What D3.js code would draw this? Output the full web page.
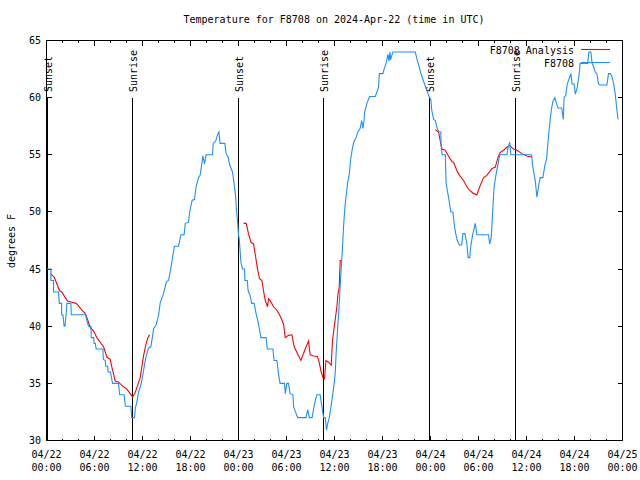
<!DOCTYPE html>
<html><head><meta charset="utf-8">
<script src="https://cdn.jsdelivr.net/npm/d3@7"></script>
<style>body{margin:0;background:#fff}svg{display:block}text{font-family:"DejaVu Sans Mono",monospace;font-size:10px;fill:#000}</style>
</head><body>
<script>
// ---- data (hours since 04/22 00:00 UTC, degrees F) ----
const titleText = "Temperature for F8708 on 2024-Apr-22 (time in UTC)";
const yLabelText = "degrees F";
const yTicks = [30, 35, 40, 45, 50, 55, 60, 65];
const xTickHours = [0, 6, 12, 18, 24, 30, 36, 42, 48, 54, 60, 66, 72];
const xTickDates = ["04/22","04/22","04/22","04/22","04/23","04/23","04/23","04/23","04/24","04/24","04/24","04/24","04/25"];
const xTickTimes = ["00:00","06:00","12:00","18:00","00:00","06:00","12:00","18:00","00:00","06:00","12:00","18:00","00:00"];
const sunEventHours = [0.08, 10.75, 24.0, 34.63, 47.88, 58.63];
const sunEventNames = ["Sunset","Sunrise","Sunset","Sunrise","Sunset","Sunrise"];
const seriesNames = ["F8708 Analysis", "F8708"];

const obsSeries = [
[0,45],[0.55,45],[0.55,44],[0.88,44],[0.88,43],[1.5,43],[1.6,42],[1.88,42],[1.9,41],[2.05,41],[2.2,40],[2.3,40],[2.45,41],[2.55,42],[3.05,42],[3.1,41],[4.9,41],[5.0,40.6],[5.25,40],[5.55,40],[5.6,39],[5.9,39],[5.95,38.5],[6.1,38.5],[6.2,38],[7.05,38],[7.1,37.1],[7.35,37],[7.4,36.5],[7.65,36.5],[7.7,36],[8.0,36],[8.25,35],[9.0,35],[9.15,34],[9.7,34],[9.85,33],[10.55,33],[10.65,32],[11.0,32],[11.1,32.8],[11.3,33.4],[11.5,34.2],[11.85,35],[12.1,36],[12.4,37.2],[12.75,38.1],[13.05,38.2],[13.4,39.8],[13.7,40.1],[14.0,40.9],[14.2,42],[14.6,42.8],[15.0,43.9],[15.25,44],[15.5,44.9],[15.75,46],[16.0,47],[16.5,47],[16.8,48],[17.2,48],[17.35,49],[17.75,49.1],[17.9,50],[18.2,51],[18.5,51.1],[18.7,52.2],[19.0,53],[19.2,53.2],[19.35,53.9],[19.55,54.9],[19.75,54.2],[19.95,55],[20.75,55],[20.85,56],[21.15,56.2],[21.4,56.8],[21.55,57],[21.7,56],[22.3,56],[22.45,55.1],[22.7,54.8],[22.9,54.1],[23.25,53.5],[23.45,52.5],[23.65,51.3],[23.75,50.1],[23.9,49],[24.0,48],[24.1,47.6],[24.2,46.6],[24.3,45.6],[24.5,45],[24.75,45],[24.8,44],[25.1,44],[25.2,43.1],[25.45,42.7],[25.65,42],[25.95,42],[26.2,41.1],[26.5,40.2],[26.8,39],[27.45,39],[27.6,38],[28.3,38],[28.45,37],[28.8,37],[29.0,35.8],[29.2,35],[29.75,35],[29.85,34.1],[30.05,35],[30.25,35],[30.45,34.1],[30.8,34],[30.9,32.9],[31.4,32],[32.45,32],[32.65,32.7],[32.85,32],[33.2,32],[33.5,33.2],[33.8,34],[34.2,34],[34.5,32.6],[34.65,32],[34.85,32],[35.0,30.9],[35.15,31.5],[35.35,32],[35.55,32.9],[35.8,34.1],[35.96,35],[36.1,36],[36.2,37.6],[36.4,39.9],[36.55,41.4],[36.7,43.4],[36.85,45.2],[37.0,46.9],[37.13,48.7],[37.3,50.4],[37.5,51.7],[37.65,52.6],[37.85,53.3],[38.0,54.5],[38.2,55.4],[38.4,56.1],[38.7,56.5],[38.9,57],[39.2,57.3],[39.4,58],[39.55,57.3],[39.7,58],[39.75,58.7],[40.05,59.5],[40.4,60.1],[41.1,60.1],[41.5,60.9],[41.6,62.1],[42.05,62.1],[42.2,62.5],[42.45,63],[42.7,63.8],[42.8,63.2],[42.95,64],[43.0,63.3],[43.3,64],[46.1,64],[46.3,63.4],[46.55,62.8],[46.8,62.1],[47.1,61.5],[47.5,60.7],[47.75,60.2],[48.05,59.8],[48.15,58.9],[48.4,58.1],[48.6,58],[48.85,57.3],[49.05,57],[49.3,57],[49.3,56],[49.45,55],[49.85,55],[49.95,52.5],[50.25,51.3],[50.55,50],[50.8,50],[50.95,49],[51.15,48.1],[51.35,47.5],[51.6,47.1],[51.9,47.1],[52.05,48.1],[52.3,48.1],[52.55,47.2],[52.7,46],[52.9,46],[53.05,47.1],[53.3,48.1],[53.6,49],[53.8,48],[55.25,48],[55.4,47.2],[55.6,47.8],[55.8,50.4],[55.95,52.2],[56.2,53.3],[56.45,54.2],[56.65,55],[57.55,55],[57.65,55.5],[57.9,56.1],[58.05,55],[60.65,55],[60.75,54.1],[61.1,52.7],[61.3,51.3],[61.5,52.2],[61.7,53],[62.05,53],[62.3,54.1],[62.5,54.6],[62.7,56.2],[62.9,57.7],[63.1,58.9],[63.3,59.7],[63.55,60],[63.75,59.5],[63.95,59.1],[64.4,59.1],[64.6,58.1],[64.7,60],[64.9,60.2],[65.1,61.2],[65.55,62.1],[65.7,61.2],[65.95,61.2],[66.1,60.3],[66.35,60.9],[66.55,61.9],[66.7,63],[67.65,63],[67.8,64],[68.05,64],[68.2,63],[68.4,62.7],[68.6,62.2],[68.8,62.1],[69.0,61.2],[69.25,61.1],[70.05,61.1],[70.25,62.1],[70.5,62.1],[70.7,61.8],[70.9,61.2],[71.1,60.3],[71.3,58.9],[71.45,58.1]
];

const analysisSeg1 = [
[0.5,44.6],[0.96,44.3],[1.3,43.7],[1.63,43.1],[1.93,43.0],[2.34,42.5],[2.63,42.2],[3.18,42.1],[3.71,42.0],[4.0,41.8],[4.43,41.4],[4.84,41.1],[5.13,40.6],[5.46,39.9],[5.88,39.6],[6.3,39.0],[6.71,38.6],[7.13,38.2],[7.55,37.3],[7.96,37.1],[8.18,36.4],[8.59,35.2],[9.0,35.1],[9.63,34.7],[10.05,34.5],[10.46,34.1],[10.75,33.8],[11.09,34.2],[11.38,34.8],[11.71,35.5],[12.13,37.4],[12.46,38.5],[12.68,39.0],[12.88,39.25]
];
const analysisSeg2 = [
[24.63,49],[24.96,49],[25.25,48.1],[25.55,47.35],[25.88,47.2],[26.09,46.3],[26.38,45.0],[26.63,44.15],[26.93,44.0],[27.13,43.1],[27.34,42.25],[27.63,41.7],[27.75,42.4],[27.96,42.25],[28.38,41.7],[28.8,41.4],[29.21,40.9],[29.63,40.2],[29.84,39.0],[30.25,39.2],[30.68,39.25],[30.96,38.2],[31.3,37.7],[31.8,37.0],[32.34,38.0],[32.75,38.7],[32.96,37.5],[33.38,37.4],[33.88,37.35],[34.13,36.7],[34.3,36.1],[34.55,35.5],[34.75,35.4],[34.93,37.0],[35.25,36.85],[35.59,36.6],[35.75,38.75],[35.96,39.9],[36.13,40.8],[36.3,41.7],[36.43,42.8],[36.59,43.4],[36.71,45.75],[36.84,45.75]
];
const analysisSeg3 = [
[48.59,57.2],[49.0,57.0],[49.21,56.25],[49.43,55.5],[49.84,55.4],[50.25,54.9],[50.68,54.4],[50.88,54.35],[51.3,53.6],[51.63,53.2],[52.13,52.75],[52.55,52.2],[52.88,51.9],[53.38,51.6],[53.8,51.5],[54.21,52.3],[54.63,53.0],[55.05,53.2],[55.68,53.8],[56.09,53.9],[56.5,54.9],[56.71,55.2],[57.13,55.4],[57.63,55.7],[57.88,55.8],[58.38,55.5],[58.8,55.4],[59.43,55.1],[60.05,54.9],[60.7,54.8]
];

// ---- drawing ----
const analysisColor = "#ff0000", obsColor = "#1e90ff";
const svg = d3.select("body").append("svg").attr("width", 640).attr("height", 480);
svg.append("rect").attr("width", 640).attr("height", 480).attr("fill", "#fff");

const x = d3.scaleLinear().domain([0, 72]).range([46.5, 622.5]);
const y = d3.scaleLinear().domain([30, 65]).range([440.5, 40.5]);
const px = v => Math.round(x(v) - 0.5) + 0.5;
const py = v => Math.round(y(v) - 0.5) + 0.5;

// title
svg.append("text").attr("x", 334).attr("y", 23).attr("text-anchor", "middle").text(titleText);
// y label
svg.append("text").attr("transform", "translate(15,241) rotate(-90)").attr("text-anchor", "middle").text(yLabelText);

// ticks
const g = svg.append("g").attr("stroke", "#000").attr("stroke-width", 1).attr("shape-rendering", "crispEdges");
d3.range(0, 73, 2).forEach(h => {
  const major = h % 6 === 0;
  const len = major ? 5 : 2;
  g.append("line").attr("x1", px(h)).attr("x2", px(h)).attr("y1", y.range()[0]).attr("y2", y.range()[0] - len);
  g.append("line").attr("x1", px(h)).attr("x2", px(h)).attr("y1", y.range()[1]).attr("y2", y.range()[1] + len);
});
yTicks.forEach(t => {
  g.append("line").attr("x1", x.range()[0]).attr("x2", x.range()[0] + 5).attr("y1", py(t)).attr("y2", py(t));
  g.append("line").attr("x1", x.range()[1]).attr("x2", x.range()[1] - 5).attr("y1", py(t)).attr("y2", py(t));
});

// tick labels
yTicks.forEach(t => {
  svg.append("text").attr("x", 41).attr("y", py(t) + 3.5).attr("text-anchor", "end").text(t);
});
xTickHours.forEach((h, i) => {
  svg.append("text").attr("x", x(h)).attr("y", 458).attr("text-anchor", "middle").text(xTickDates[i]);
  svg.append("text").attr("x", x(h)).attr("y", 471).attr("text-anchor", "middle").text(xTickTimes[i]);
});

// sun events
sunEventHours.forEach((h, i) => {
  const lx = px(h);
  g.append("line").attr("x1", lx).attr("x2", lx).attr("y1", 98).attr("y2", y.range()[0]);
  svg.append("text").attr("transform", `translate(${lx + 4.5},92) rotate(-90)`).attr("text-anchor", "start").text(sunEventNames[i]);
});

// series
const line = d3.line().x(d => x(d[0])).y(d => y(d[1]));
[analysisSeg1, analysisSeg2, analysisSeg3].forEach(seg => {
  svg.append("path").attr("d", line(seg)).attr("fill", "none").attr("stroke", analysisColor).attr("stroke-width", 1.1);
});
svg.append("path").attr("d", line(obsSeries)).attr("fill", "none").attr("stroke", obsColor).attr("stroke-width", 1.1);

// border
svg.append("rect").attr("x", x.range()[0]).attr("y", y.range()[1])
  .attr("width", x.range()[1] - x.range()[0]).attr("height", y.range()[0] - y.range()[1])
  .attr("fill", "none").attr("stroke", "#000").attr("shape-rendering", "crispEdges");

// legend
const legendColors = [analysisColor, obsColor];
seriesNames.forEach((n, i) => {
  const ly = 49.5 + i * 13;
  svg.append("text").attr("x", 574).attr("y", ly + 4).attr("text-anchor", "end").text(n);
  svg.append("line").attr("x1", 581).attr("x2", 610).attr("y1", ly).attr("y2", ly)
    .attr("stroke", legendColors[i]).attr("stroke-width", 1.1);
});
</script>
</body></html>
